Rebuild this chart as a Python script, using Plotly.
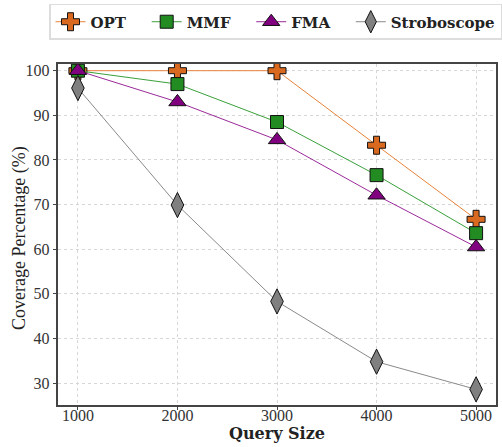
import plotly.graph_objects as go

query_sizes = [1000, 2000, 3000, 4000, 5000]
opt = [100, 100, 100, 83.3, 66.7]
mmf = [100, 97.0, 88.5, 76.6, 63.6]
fma = [100, 93.0, 84.5, 72.1, 60.5]
strobo = [96.1, 69.9, 48.3, 34.8, 28.6]
names = ["OPT", "MMF", "FMA", "Stroboscope"]

styles = [
    ("#e8833a", "#d9691f", "cross", 15),
    ("#3aa03a", "#228b22", "square", 13),
    ("#9a2a9a", "#800080", "triangle-up", 15),
    ("#8a8a8a", "#808080", "diamond-tall", 18),
]
values = [opt, mmf, fma, strobo]

fig = go.Figure()
for i, (name, vals, (lc, mc, sym, sz)) in enumerate(zip(names, values, styles)):
    pad = "\u00a0" * 3 if i < len(names) - 1 else ""
    fig.add_trace(go.Scatter(
        x=query_sizes, y=vals, name=name + pad, mode="lines+markers",
        line=dict(color=lc, width=1),
        marker=dict(symbol=sym, size=sz, color=mc, line=dict(color="#111", width=1)),
    ))

serif = "Liberation Serif, serif"
bold_serif = "DejaVu Serif, serif"
fig.update_layout(
    width=502, height=447,
    margin=dict(l=58, r=4, t=64, b=42),
    paper_bgcolor="white", plot_bgcolor="white",
    font=dict(family=serif, size=16, color="#222"),
    showlegend=True,
    legend=dict(
        orientation="h", x=-0.016, y=1.176, xanchor="left", yanchor="top",
        bordercolor="#dddddd", borderwidth=1.5,
        font=dict(family=bold_serif, size=15, color="#222", weight="bold"),
        tracegroupgap=0,
    ),
    annotations=[
        dict(text="<b>Query Size</b>", xref="paper", yref="paper", x=0.5, y=-0.083,
             xanchor="center", yanchor="middle", showarrow=False,
             font=dict(family=bold_serif, size=16, color="#222")),
        dict(text="Coverage Percentage (%)", xref="paper", yref="paper", x=-0.0864, y=0.49,
             xanchor="center", yanchor="middle", showarrow=False, textangle=-90,
             font=dict(family=serif, size=18, color="#222")),
    ],
)
axis_common = dict(
    showline=True, linecolor="#444", linewidth=1.5, mirror=True,
    ticks="outside", ticklen=3.5, tickcolor="#444",
    showgrid=True, gridcolor="#d6d6d6", griddash="dot", gridwidth=1,
    zeroline=False, tickfont=dict(family=serif, size=16, color="#333"),
)
fig.update_xaxes(
    range=[800, 5200], tickvals=query_sizes, ticklabelstandoff=-8,
    **axis_common,
)
fig.update_yaxes(
    range=[25.1, 101.5], tickvals=[30, 40, 50, 60, 70, 80, 90, 100],
    **axis_common,
)

fig.write_html("out.html")
